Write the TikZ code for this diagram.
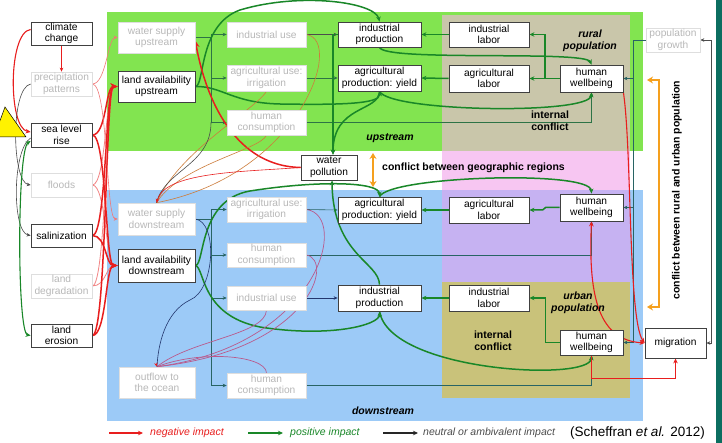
\documentclass[tikz,border=0pt]{standalone}
\usepackage{fontspec}
\setmainfont{Liberation Sans}
\usetikzlibrary{arrows.meta,calc}
\pgfdeclarelayer{bgl}
\pgfdeclarelayer{edl}
\pgfsetlayers{bgl,edl,main}
\definecolor{cgreen}{RGB}{130,228,80}
\definecolor{ctan}{RGB}{201,198,170}
\definecolor{cpink}{RGB}{247,198,242}
\definecolor{cpurple}{RGB}{198,178,242}
\definecolor{cblue}{RGB}{156,202,247}
\definecolor{colive}{RGB}{201,194,122}
\definecolor{cteal}{RGB}{12,110,96}
\definecolor{rd}{RGB}{232,30,30}
\definecolor{gn}{RGB}{25,135,40}
\definecolor{tg}{RGB}{45,115,70}
\definecolor{tl}{RGB}{40,100,100}
\definecolor{br}{RGB}{205,125,60}
\definecolor{mv}{RGB}{185,90,140}
\definecolor{nv}{RGB}{35,55,110}
\definecolor{org}{RGB}{245,160,30}
\newcommand{\bx}[7]{\node[#6, minimum width={(#4-#2)*1pt}, minimum height={(#5-#3)*1pt}] (#1) at ({(#2+#4)/2},{(#3+#5)/2}) {#7};}
\tikzset{
  bbox/.style={draw=black!75, line width=0.8pt, fill=white, align=center, inner sep=0.5pt, font=\fontsize{10.2}{11.6}\selectfont},
  gbox/.style={draw=black!13, line width=0.6pt, fill=white, text=black!28, align=center, inner sep=0.5pt, font=\fontsize{10.2}{11.6}\selectfont},
  lbl/.style={align=center, inner sep=0pt, font=\fontsize{10.5}{12}\selectfont\bfseries},
  lbli/.style={align=center, inner sep=0pt, font=\fontsize{10.5}{12}\selectfont\bfseries\itshape},
  sa/.style={-{Stealth[length=4pt,width=3.5pt]}},
  rk/.style={draw=rd, line width=1.5pt, -{Stealth[length=7pt,width=6pt]}},
  rl/.style={draw=rd!55, line width=0.8pt, -{Stealth[length=5pt,width=4.5pt]}},
  rm/.style={draw=rd, line width=1.1pt, -{Stealth[length=5pt,width=4.5pt]}},
  rt/.style={draw=rd, line width=0.6pt, -{Stealth[length=4pt,width=3.5pt]}},
  gk/.style={draw=gn, line width=1.5pt, -{Stealth[length=5pt,width=4.5pt]}},
  gm/.style={draw=gn, line width=1.1pt},
  gt/.style={draw=tg, line width=0.6pt},
  tt/.style={draw=tl, line width=0.6pt},
  kt/.style={draw=black!70, line width=0.6pt},
  nt/.style={draw=nv, line width=0.6pt},
  bt/.style={draw=br, line width=0.6pt},
  mt/.style={draw=mv, line width=0.7pt},
  ok/.style={draw=org, line width=2.2pt, {Stealth[length=6pt,width=7pt]}-{Stealth[length=6pt,width=7pt]}}
}
\begin{document}
\begin{tikzpicture}[x=1pt,y=-1pt]
\useasboundingbox (0,0) rectangle (722,443);
\clip (0,0) rectangle (722,443);
% backgrounds
\begin{pgfonlayer}{bgl}
\fill[white] (0,0) rectangle (722,443);
\fill[cgreen] (107,12) rectangle (643,151);
\fill[ctan] (442,15) rectangle (630,151);
\fill[cpink] (442,151) rectangle (630,190);
\fill[cblue] (107,190) rectangle (643,421);
\fill[cpurple] (442,190) rectangle (630,282);
\fill[colive] (442,282) rectangle (630,398);
\fill[cteal] (716,0) rectangle (722,443);
\end{pgfonlayer}
\filldraw[fill=yellow, draw=black, line width=0.5pt] (-6,137) -- (5,107) -- (26,137) -- cycle;
% nodes
\bx{cc}{31}{22}{92}{45}{bbox}{climate\\change}
\bx{pp}{31}{72}{92}{96}{gbox}{precipitation\\patterns}
\bx{slr}{31}{123}{92}{147}{bbox}{sea level\\rise}
\bx{fl}{31}{173}{92}{197}{gbox}{floods}
\bx{sal}{31}{224}{92}{247}{bbox}{salinization}
\bx{ld}{31}{274}{92}{298}{gbox}{land\\degradation}
\bx{le}{31}{324}{92}{347}{bbox}{land\\erosion}
\bx{wsu}{118}{22}{195}{53}{gbox}{water supply\\upstream}
\bx{lau}{118}{71}{195}{102}{bbox}{land availability\\upstream}
\bx{wsd}{118}{203}{195}{235}{gbox}{water supply\\downstream}
\bx{lad}{118}{249}{195}{282}{bbox}{land availability\\downstream}
\bx{oo}{119}{367}{195}{398}{gbox}{outflow to\\the ocean}
\bx{iuu}{227}{22}{306}{47}{gbox}{industrial use}
\bx{auu}{227}{65}{306}{91}{gbox}{agricultural use:\\irrigation}
\bx{hcu}{227}{110}{306}{135}{gbox}{human\\consumption}
\bx{aud}{227}{197}{306}{222}{gbox}{agricultural use:\\irrigation}
\bx{hcd}{227}{243}{306}{267}{gbox}{human\\consumption}
\bx{iud}{227}{286}{306}{310}{gbox}{industrial use}
\bx{hcb}{227}{373}{306}{398}{gbox}{human\\consumption}
\bx{ipu}{338}{22}{421}{47}{bbox}{industrial\\production}
\bx{apu}{338}{65}{421}{91}{bbox}{agricultural\\production: yield}
\bx{wp}{301}{155}{357}{180}{bbox}{water\\pollution}
\bx{apd}{338}{197}{421}{223}{bbox}{agricultural\\production: yield}
\bx{ipd}{338}{285}{421}{311}{bbox}{industrial\\production}
\bx{ilu}{449}{22}{529}{47}{bbox}{industrial\\labor}
\bx{alu}{449}{65}{529}{92}{bbox}{agricultural\\labor}
\bx{ald}{449}{197}{529}{223}{bbox}{agricultural\\labor}
\bx{ild}{449}{285}{529}{311}{bbox}{industrial\\labor}
\bx{hwr}{560}{65}{623}{92}{bbox}{human\\wellbeing}
\bx{hwd}{560}{194}{623}{221}{bbox}{human\\wellbeing}
\bx{hwu}{560}{330}{623}{355}{bbox}{human\\wellbeing}
\bx{mig}{645}{328}{706}{358}{bbox}{migration}
\bx{pg}{646}{28}{700}{52}{gbox}{population\\growth}
% labels
\node[lbli] (rpl) at (590,41) {rural\\population};
\node[lbl] (ic1) at (550,121) {internal\\conflict};
\node[lbli] (usl) at (390,138) {upstream};
\node[lbl, anchor=west] (cgl) at (382,167.5) {conflict between geographic regions};
\node[lbli] (upl) at (578,303) {urban\\population};
\node[lbl] (ic2) at (493,341) {internal\\conflict};
\node[lbli] (dsl) at (383,411) {downstream};
\node[lbl, rotate=90] (crl) at (677,190) {conflict between rural and urban population};
\begin{pgfonlayer}{edl}
% left column links
\draw[rt] (cc.south) -- (pp.north);
\draw[rm] ($(cc.west)+(0,-4)$) .. controls (8,32) and (8,128) .. ($(slr.west)+(0,-3)$);
\draw[kt,sa] (pp.west) .. controls (10,88) and (12,182) .. (fl.west);
\draw[kt,sa] ($(slr.west)+(0,3)$) .. controls (12,150) and (12,232) .. (sal.west);
\draw[gm,{Stealth[length=5pt,width=4.5pt]}-{Stealth[length=5pt,width=4.5pt]}] ($(slr.west)+(0,6)$) .. controls (17,150) and (17,333) .. (le.west);
\foreach \s in {fl,ld}{
  \draw[rl] (\s.east) .. controls +(14,0) and +(-12,0) .. (lau.west);
  \draw[rl] (\s.east) .. controls +(14,0) and +(-12,0) .. (lad.west);
}
\foreach \s in {slr,sal,le}{
  \draw[rk] (\s.east) .. controls +(14,0) and +(-12,0) .. (lau.west);
  \draw[rk] (\s.east) .. controls +(14,0) and +(-12,0) .. (lad.west);
}
\draw[rt, draw=rd!60] (pp.east) .. controls +(14,0) and +(-10,0) .. (wsu.west);
\draw[rt, draw=rd!60] (pp.east) .. controls +(16,0) and +(-12,0) .. (wsd.west);
% distribution
\coordinate (vu) at (211,0);
\draw[gt] (wsu.east) -- (wsu.east -| vu);
\draw[gt] (vu |- iuu.west) -- (vu |- hcu.west);
\foreach \n in {iuu,auu,hcu} \draw[gt,sa] (vu |- \n.west) -- (\n.west);
\draw[tt] (wsd.east) -- (wsd.east -| vu);
\draw[tt] (vu |- aud.west) -- (vu |- hcb.west);
\foreach \n in {aud,hcd,iud,hcb} \draw[tt,sa] (vu |- \n.west) -- (\n.west);
% use -> production / wellbeing
\draw[kt,sa] (iuu.east) -- (ipu.west);
\draw[gt,sa] (auu.east) -- (apu.west);
\draw[gt,sa] (hcu.east) -| (hwr.south);
\draw[tt,sa] (aud.east) -- (apd.west);
\draw[nt,sa] (iud.east) -- (ipd.west);
\draw[tt,sa] (hcd.east) -| (hwd.south);
\draw[tt,sa] (hcb.east) -| (hwu.south);
% labor
\draw[gk] (ilu.west) -- (ipu.east);
\draw[gk] (alu.west) -- (apu.east);
\draw[gk] (hwr.west) -- (alu.east);
\coordinate (jr) at (545,78.5);
\draw[gk] (jr) |- (ilu.east);
\draw[gk] (ald.west) -- (apd.east);
\draw[gk] (hwd.west) -- ++(-14,0) -- ++(-3,2.5) -- (ald.east);
\draw[gk] (ild.west) -- (ipd.east);
\draw[gk] (hwu.west) -| ($(ild.east)+(16,0)$) -- (ild.east);
% production -> wellbeing
\draw[gk] (ipu.south) .. controls (385,62) and (585,50) .. (hwr.north);
\draw[gk] (apu.south) .. controls (390,112) and (590,115) .. (hwr.south);
\draw[gk] (apd.north) .. controls (390,176) and (590,170) .. (hwd.north);
\draw[gk] (ipd.south) .. controls (390,372) and (590,382) .. (hwu.south);
% land availability
\draw[gk] (lau.east) .. controls (205,86) and (198,25) .. (240,10) .. controls (300,-8) and (375,2) .. (ipu.north);
\draw[gk] (lau.east) .. controls (222,86) and (232,103) .. (280,104) .. controls (340,105) and (380,104) .. (apu.south);
\draw[gk] (lad.east) .. controls (205,265) and (198,200) .. (250,191) .. controls (320,180) and (379,182) .. (apd.north);
\draw[gk] (lad.east) .. controls (205,268) and (200,315) .. (260,327) .. controls (330,338) and (380,325) .. (ipd.south);
% water pollution
\draw[gk] (ipu.west) -| ($(wp.north)+(4,0)$);
\draw[gk] (apu.south) .. controls (379,112) and (333,105) .. ($(wp.north)+(4,0)$);
\draw[gk] (ipd.north) .. controls (379,262) and (333,255) .. ($(wp.south)+(3,0)$);
\draw[rk] (wp.west) .. controls (230,166) and (204,90) .. ($(wsu.east)+(0,3)$);
% into water supply downstream
\draw[bt] (iuu.east) .. controls (345,40) and (300,175) .. (wsd.north);
\draw[bt] (auu.south) .. controls (255,110) and (180,150) .. (wsd.north);
\draw[bt] (hcu.south) .. controls (260,150) and (180,165) .. (wsd.north);
\draw[kt] (vu |- hcu.west) .. controls (211,165) and (165,170) .. (wsd.north);
\draw[rt] (wp.west) .. controls (240,172) and (165,172) .. (wsd.north);
% into outflow
\draw[mt] (aud.east) .. controls (350,215) and (320,345) .. (oo.north);
\draw[mt] (hcd.east) .. controls (335,260) and (310,350) .. (oo.north);
\draw[mt] (iud.south) .. controls (265,335) and (190,340) .. (oo.north);
\draw[mt] (hcb.north) .. controls (265,355) and (200,350) .. (oo.north);
\draw[nt] (wsd.east) .. controls (218,222) and (215,290) .. (190,300) .. controls (165,312) and (158,345) .. (oo.north);
\draw[rt] ($(oo.north)+(-1,-3)$) -- (oo.north);
% right side
\coordinate (px) at (633,0);
\draw[tt] (pg.west) -- (pg.west -| px) -- (px |- hwu.east);
\foreach \n in {hwr,hwd,hwu} \draw[tt,-{Stealth[length=4pt,width=3.5pt,fill=black]}] (px |- \n.east) -- (\n.east);
\draw[kt,{Stealth[length=4pt,width=3.5pt]}-{Stealth[length=4pt,width=3.5pt]}] (pg.east) -- ++(11,0) |- (mig.east);
\coordinate (o1) at (647,80);
\coordinate (o2) at (647,307);
\draw[ok] (o1) -- ++(12,0) -- ($(o2)+(12,0)$) -- (o2);
\coordinate (o3) at (373,153);
\coordinate (o4) at (373,187);
\draw[ok] (o3) -- (o4);
\draw[rm] (hwr.south east) .. controls (632,150) and (628,320) .. (mig.west);
\draw[rm,{Stealth[length=5pt,width=4.5pt]}-{Stealth[length=5pt,width=4.5pt]}] (hwd.south) .. controls (588,300) and (600,340) .. (mig.west);
\draw[rm] (hwu.south) -- ++(0,23) -| (mig.south);
\end{pgfonlayer}
% legend
\coordinate (la1) at (109,433); \coordinate (la2) at (143,433);
\coordinate (lb1) at (248,433); \coordinate (lb2) at (283,433);
\coordinate (lc1) at (383,433); \coordinate (lc2) at (418,433);
\draw[rm, line width=1.3pt] (la1) -- (la2);
\draw[gk, line width=1.3pt] (lb1) -- (lb2);
\draw[draw=black!85, line width=1.3pt, -{Stealth[length=5pt,width=4.5pt]}] (lc1) -- (lc2);
\node[anchor=west, inner sep=0pt, text=rd, font=\fontsize{10.5}{12}\selectfont\itshape] (lt1) at (150,433) {negative impact};
\node[anchor=west, inner sep=0pt, text=gn, font=\fontsize{10.5}{12}\selectfont\itshape] (lt2) at (290,433) {positive impact};
\node[anchor=west, inner sep=0pt, text=black!70, font=\fontsize{10.5}{12}\selectfont\itshape] (lt3) at (423,433) {neutral or ambivalent impact};
\node[anchor=west, inner sep=0pt, font=\fontsize{13.5}{15}\selectfont] (src) at (570,433) {(Scheffran \textit{et al.} 2012)};
\end{tikzpicture}
\end{document}
